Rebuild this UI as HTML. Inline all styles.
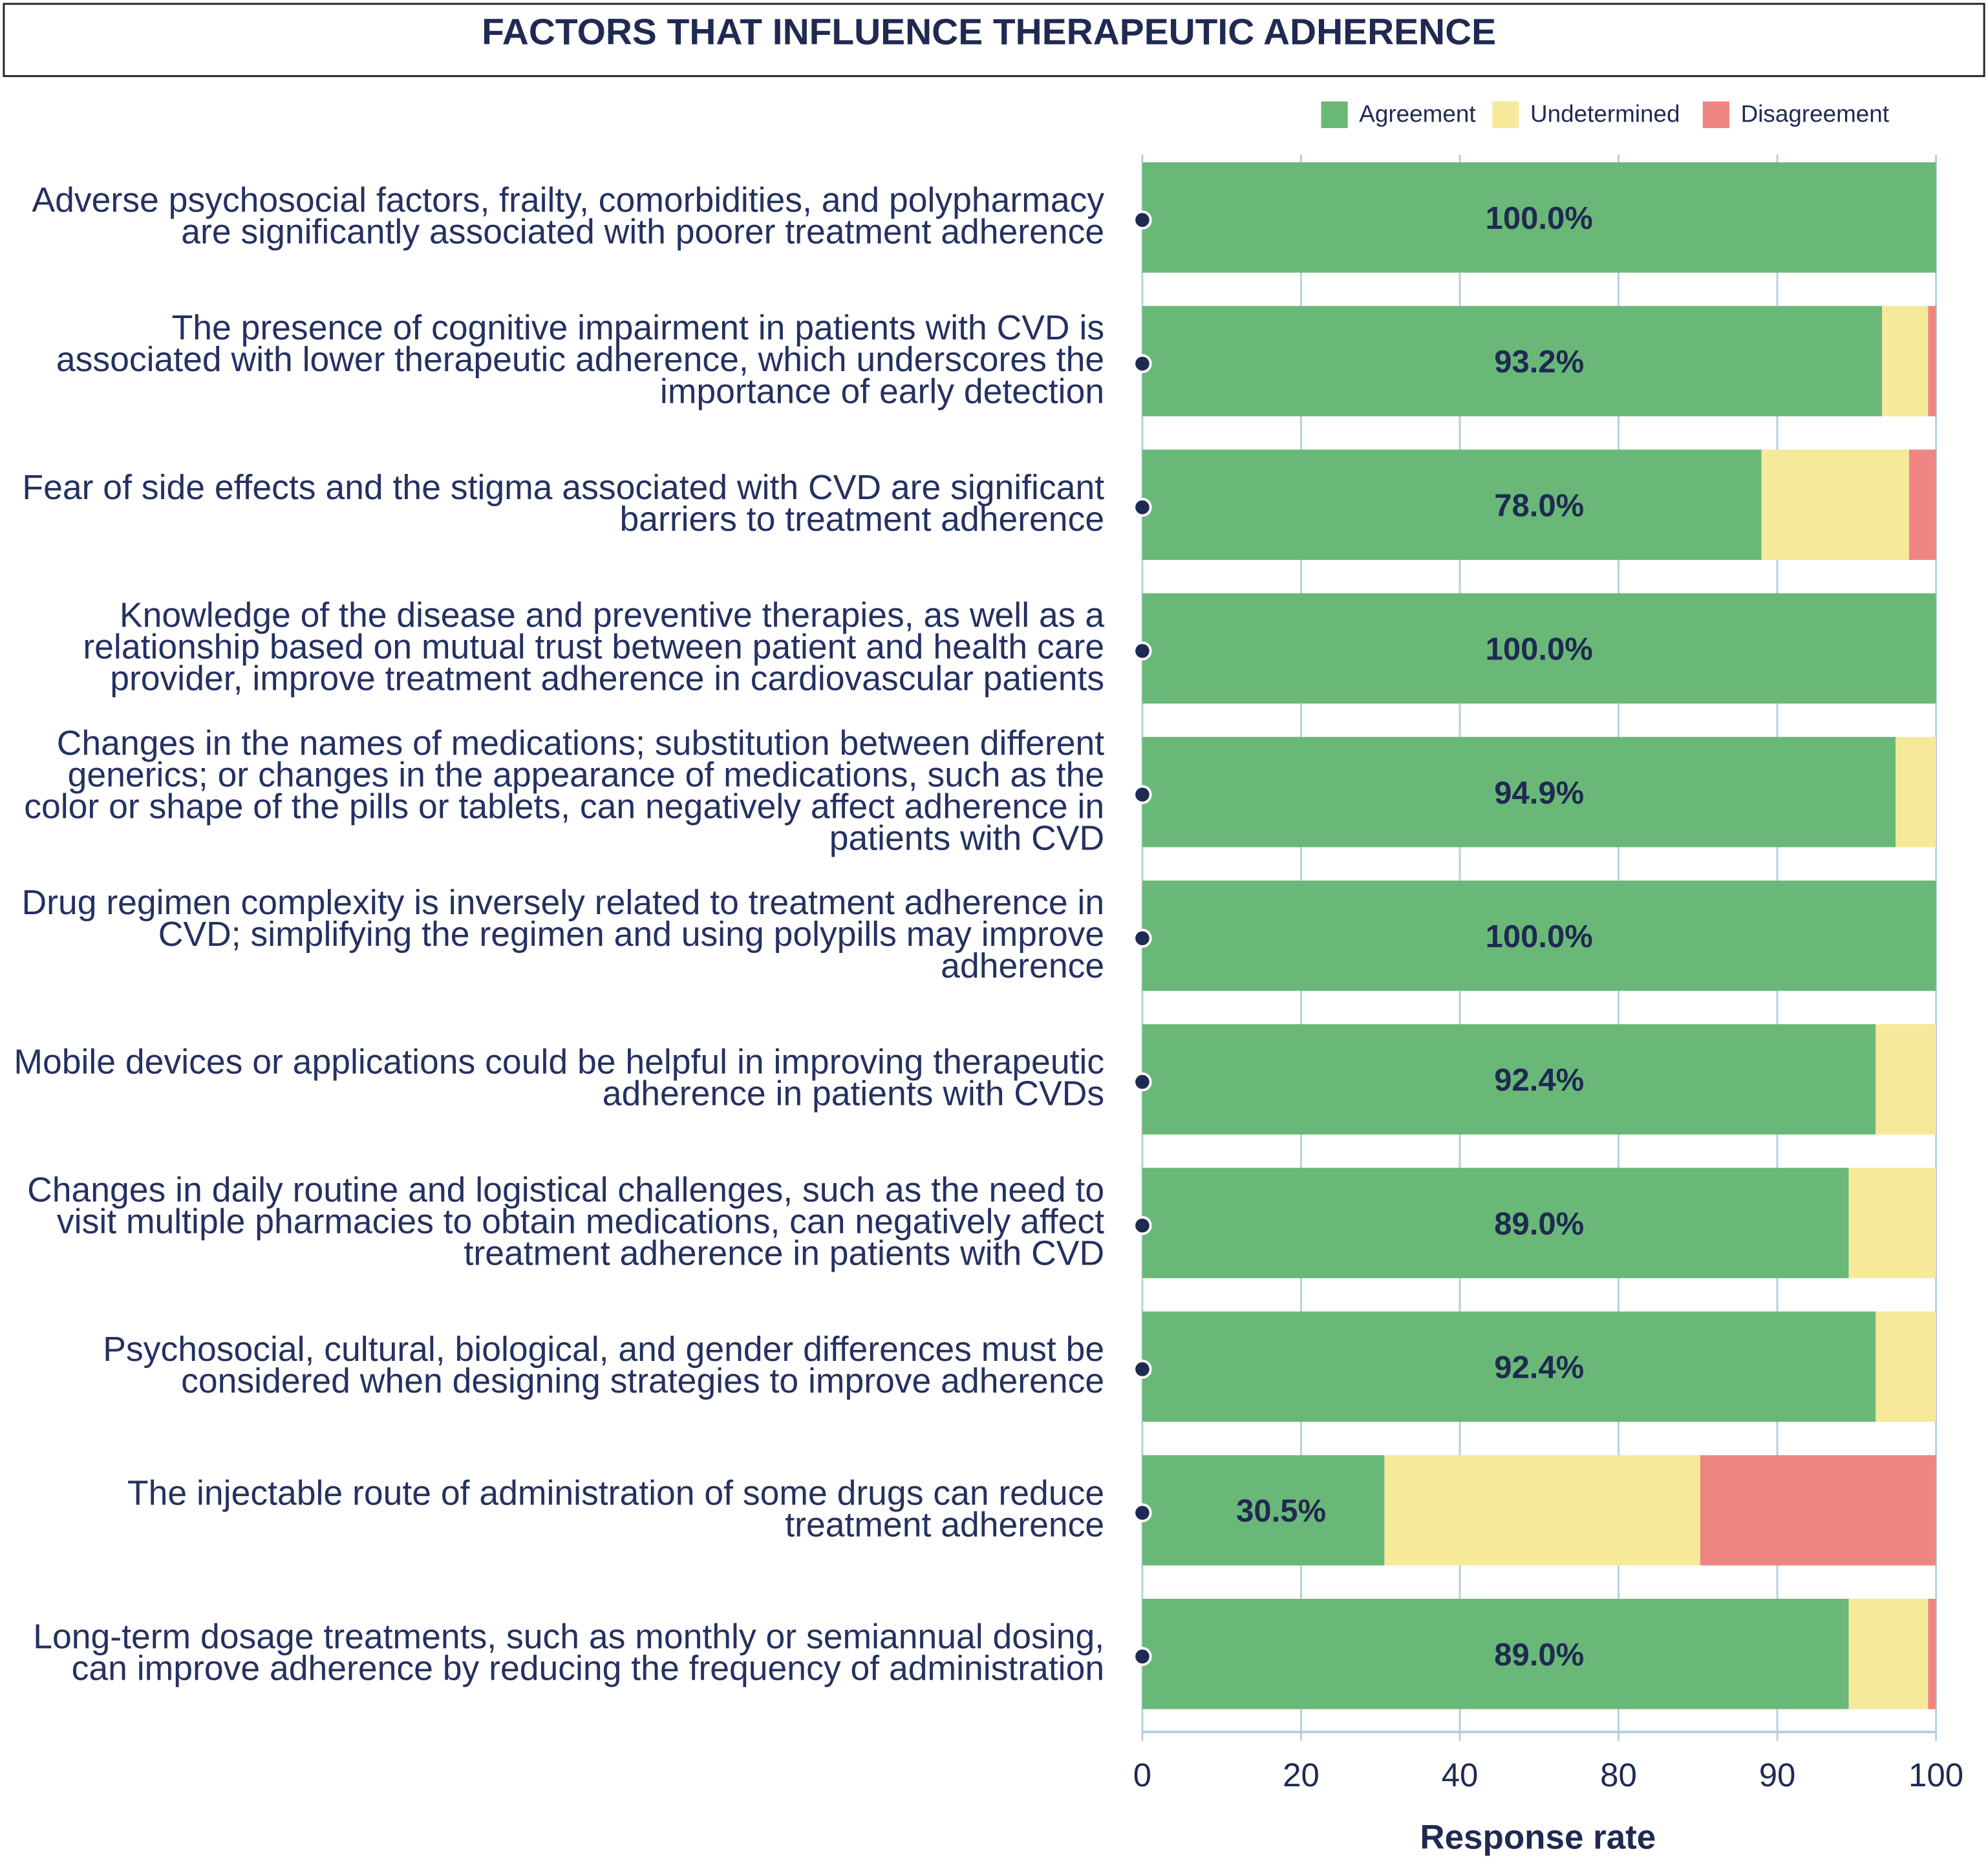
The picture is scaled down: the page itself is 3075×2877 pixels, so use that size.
<!DOCTYPE html>
<html><head><meta charset="utf-8"><style>
html,body{margin:0;padding:0;background:#fff}
svg{display:block;font-family:"Liberation Sans",Arial,sans-serif}
</style></head><body>
<svg id="chart" width="3075" height="2877" viewBox="0 0 1568 1467" xmlns="http://www.w3.org/2000/svg">
<rect x="3" y="3" width="1562" height="57" fill="#fff" stroke="#222" stroke-width="1.5"/>
<text x="780" y="35" text-anchor="middle" font-size="29" font-weight="bold" fill="#1f2a52">FACTORS THAT INFLUENCE THERAPEUTIC ADHERENCE</text>
<g id="legend"></g>
<g id="grid"></g><g id="bars"></g><g id="labels"></g><g id="axis"></g>
</svg>
<script>
const categories=[
["Adverse psychosocial factors, frailty, comorbidities, and polypharmacy","are significantly associated with poorer treatment adherence"],
["The presence of cognitive impairment in patients with CVD is","associated with lower therapeutic adherence, which underscores the","importance of early detection"],
["Fear of side effects and the stigma associated with CVD are significant","barriers to treatment adherence"],
["Knowledge of the disease and preventive therapies, as well as a","relationship based on mutual trust between patient and health care","provider, improve treatment adherence in cardiovascular patients"],
["Changes in the names of medications; substitution between different","generics; or changes in the appearance of medications, such as the","color or shape of the pills or tablets, can negatively affect adherence in","patients with CVD"],
["Drug regimen complexity is inversely related to treatment adherence in","CVD; simplifying the regimen and using polypills may improve","adherence"],
["Mobile devices or applications could be helpful in improving therapeutic","adherence in patients with CVDs"],
["Changes in daily routine and logistical challenges, such as the need to","visit multiple pharmacies to obtain medications, can negatively affect","treatment adherence in patients with CVD"],
["Psychosocial, cultural, biological, and gender differences must be","considered when designing strategies to improve adherence"],
["The injectable route of administration of some drugs can reduce","treatment adherence"],
["Long-term dosage treatments, such as monthly or semiannual dosing,","can improve adherence by reducing the frequency of administration"]];
const agreement=[100,93.2,78.0,100,94.9,100,92.4,89.0,92.4,30.5,89.0];
const undetermined=[0,5.8,18.6,0,5.1,0,7.6,11.0,7.6,39.8,10.0];
const disagreement=[0,1.0,3.4,0,0,0,0,0,0,29.7,1.0];
const tickValues=[0,20,40,60,80,100];
const tickLabels=["0","20","40","80","90","100"];
const seriesNames=["Agreement","Undetermined","Disagreement"];
const colors=["#6ab877","#f6e99a","#ee8582"];
const NS="http://www.w3.org/2000/svg";
const X0=901,X1=1527,Y0=128,STEP=113.3,BH=87;
const x=v=>X0+(X1-X0)*v/100;
const yTop=i=>Y0+i*STEP;
function mk(t,a,p){const e=document.createElementNS(NS,t);for(const k in a)e.setAttribute(k,a[k]);p.appendChild(e);return e;}
const grid=document.getElementById('grid'),bars=document.getElementById('bars'),labels=document.getElementById('labels'),axis=document.getElementById('axis'),legend=document.getElementById('legend');
tickValues.forEach((v,i)=>{
 const l=mk('line',{x1:x(v),x2:x(v),y1:Y0-6,y2:1366,stroke:'#b3cfe2','stroke-width':1.5},grid);
 
 
 mk('line',{x1:x(v),x2:x(v),y1:1366,y2:1373,stroke:'#b3cfe2','stroke-width':1.5},axis);
 const t=mk('text',{x:x(v),y:1409,'text-anchor':'middle','font-size':26,fill:'#1f2a52'},axis);
 t.textContent=tickLabels[i];
 
 
});
const al=mk('line',{x1:X0,x2:X1,y1:1366,y2:1366,stroke:'#b3cfe2','stroke-width':2},axis);


const xt=mk('text',{x:1213,y:1458,'text-anchor':'middle','font-size':27,'font-weight':'bold',fill:'#1f2a52'},axis);
xt.textContent='Response rate';


categories.forEach((lines,i)=>{
 const vals=[agreement[i],undetermined[i],disagreement[i]];
 let acc=0;const yt=yTop(i),cy=yt+BH/2;
 vals.forEach((v,s)=>{
  if(v>0){const r=mk('rect',{x:x(acc),y:yt,width:x(acc+v)-x(acc),height:BH,fill:colors[s]},bars);
  
  }
  acc+=v;
 });
 const lx=agreement[i]<50?(x(0)+x(agreement[i]))/2+14:(X0+X1)/2;
 const vt=mk('text',{x:lx,y:cy+9,'text-anchor':'middle','font-size':25,'font-weight':'bold',fill:'#1f2a52'},bars);
 vt.textContent=agreement[i].toFixed(1)+'%';
 
 
 const d=mk('circle',{cx:X0,cy:cy+2,r:6.5,fill:'#1f2a52',stroke:'#fff','stroke-width':2},bars);
 
 
 const n=lines.length,lh=25,start=cy-(n-1)*lh/2+8;
 const t=mk('text',{'text-anchor':'end','font-size':27.3,fill:'#243160'},labels);
 
 
 lines.forEach((ln,k)=>{const s=mk('tspan',{x:871,y:start+k*lh},t);s.textContent=ln;});
});
const lxs=[1042,1177,1343];
seriesNames.forEach((nm,s)=>{
 const r=mk('rect',{x:lxs[s],y:80,width:21,height:21,fill:colors[s]},legend);
 
 
 const t=mk('text',{x:lxs[s]+30,y:96,'font-size':18.8,fill:'#1f2a52'},legend);
 t.textContent=nm;
 
 
});
</script>
</body></html>
